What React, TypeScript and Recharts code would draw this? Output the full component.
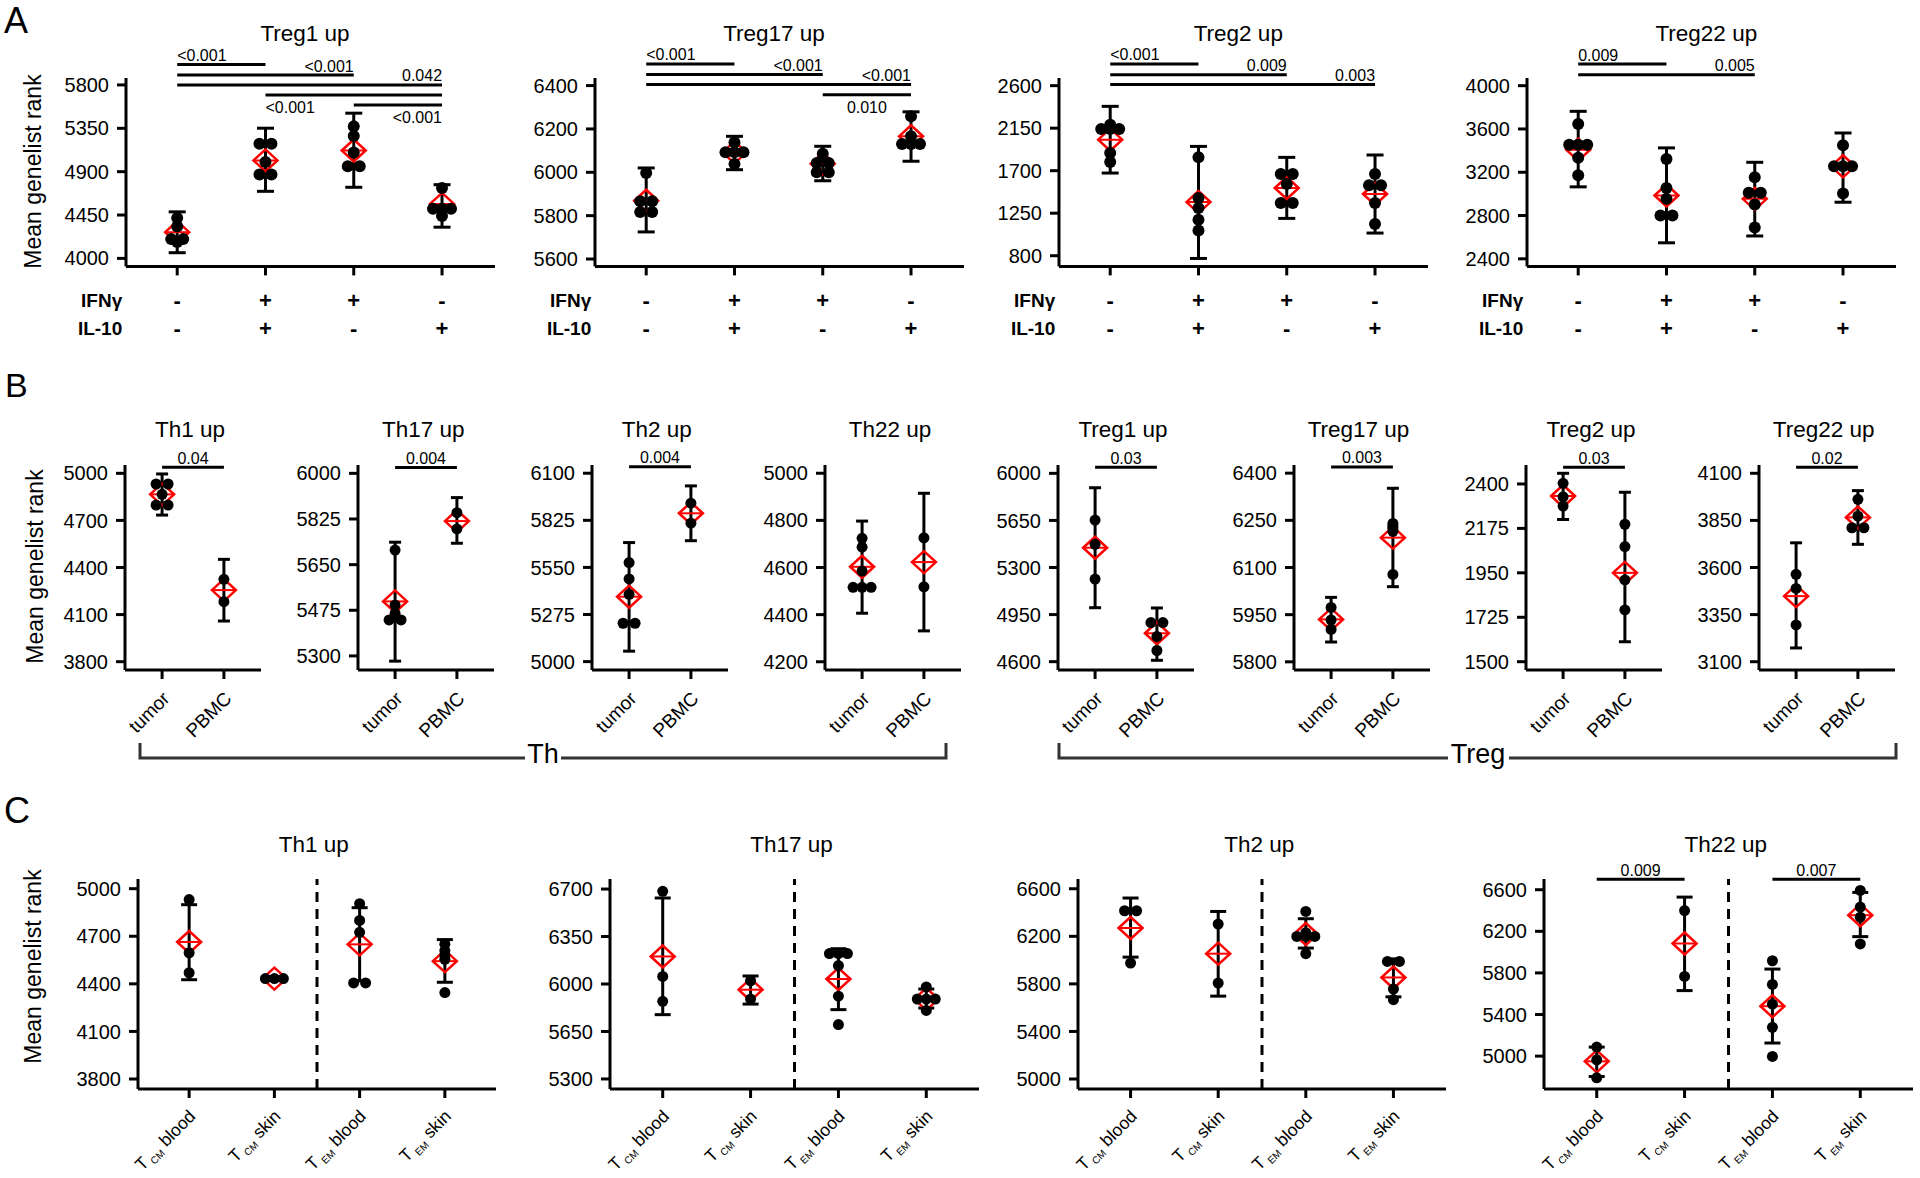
import React from 'react';
import { ComposedChart, Scatter, XAxis, YAxis, ErrorBar, ReferenceLine } from 'recharts';

const FONT = '"Liberation Sans", Arial, Helvetica, sans-serif';

// ================= DATA =================
// ---- Panel A ----
const aTitles = ['Treg1 up', 'Treg17 up', 'Treg2 up', 'Treg22 up'];
const aRowLabels = ['IFNγ', 'IL-10'];
const aIFNg = ['-', '+', '+', '-'];
const aIL10 = ['-', '+', '-', '+'];

const aTreg1Points = [[4420, 4330, 4200, 4200, 4170], [5190, 5190, 5000, 4870, 4870], [5370, 5270, 5100, 4955, 4955], [4730, 4515, 4515, 4515, 4440]];
const aTreg1Mean = [4272, 5017, 5120, 4565];
const aTreg1Low = [4059, 4696, 4738, 4324];
const aTreg1High = [4483, 5351, 5507, 4765];
const aTreg1Ticks = [4000, 4450, 4900, 5350, 5800];
const aTreg1Range = [3917, 5872];
const aTreg1Brackets = [
  { from: 0, to: 1, y: 6013, p: '<0.001', at: 'aboveLeft' },
  { from: 0, to: 2, y: 5903, p: '<0.001', at: 'aboveRight' },
  { from: 0, to: 3, y: 5800, p: '0.042', at: 'aboveRight' },
  { from: 1, to: 3, y: 5696, p: '<0.001', at: 'belowLeft' },
  { from: 2, to: 3, y: 5593, p: '<0.001', at: 'belowRight' },
];

const aTreg17Points = [[5997, 5866, 5866, 5817, 5817], [6138, 6092, 6092, 6092, 6038], [6086, 6043, 6043, 6000, 6000], [6258, 6166, 6131, 6131, 6131]];
const aTreg17Mean = [5869, 6092, 6040, 6166];
const aTreg17Low = [5725, 6012, 5961, 6051];
const aTreg17High = [6020, 6166, 6120, 6279];
const aTreg17Ticks = [5600, 5800, 6000, 6200, 6400];
const aTreg17Range = [5566, 6435];
const aTreg17Brackets = [
  { from: 0, to: 1, y: 6500, p: '<0.001', at: 'aboveLeft' },
  { from: 0, to: 2, y: 6451, p: '<0.001', at: 'aboveRight' },
  { from: 0, to: 3, y: 6405, p: '<0.001', at: 'aboveRight' },
  { from: 2, to: 3, y: 6358, p: '0.010', at: 'belowCenter' },
];

const aTreg2Points = [[2187, 2141, 2141, 2141, 1887, 1792], [1841, 1411, 1305, 1181, 1068], [1665, 1665, 1559, 1358, 1358], [1665, 1545, 1545, 1358, 1136]];
const aTreg2Mean = [2028, 1368, 1517, 1453];
const aTreg2Low = [1675, 771, 1195, 1040];
const aTreg2High = [2381, 1957, 1841, 1866];
const aTreg2Ticks = [800, 1250, 1700, 2150, 2600];
const aTreg2Range = [687, 2681];
const aTreg2Brackets = [
  { from: 0, to: 1, y: 2830, p: '<0.001', at: 'aboveLeft' },
  { from: 0, to: 2, y: 2716, p: '0.009', at: 'aboveRight' },
  { from: 0, to: 3, y: 2611, p: '0.003', at: 'aboveRight' },
];

const aTreg22Points = [[3646, 3455, 3455, 3455, 3333, 3172], [3323, 3055, 2954, 2800, 2800], [3154, 3010, 3010, 2902, 2689], [3449, 3255, 3255, 3255, 3003]];
const aTreg22Mean = [3409, 2985, 2954, 3255];
const aTreg22Low = [3065, 2548, 2611, 2923];
const aTreg22High = [3763, 3425, 3292, 3563];
const aTreg22Ticks = [2400, 2800, 3200, 3600, 4000];
const aTreg22Range = [2330, 4071];
const aTreg22Brackets = [
  { from: 0, to: 1, y: 4200, p: '0.009', at: 'aboveLeft' },
  { from: 0, to: 2, y: 4101, p: '0.005', at: 'aboveRight' },
];

// ---- Panel B ----
const bTitles = ['Th1 up', 'Th17 up', 'Th2 up', 'Th22 up', 'Treg1 up', 'Treg17 up', 'Treg2 up', 'Treg22 up'];
const bCategories = ['tumor', 'PBMC'];
const bGroups = ['Th', 'Treg'];

const bTh1Points = [[4932, 4932, 4866, 4798, 4798], [4325, 4182]];
const bTh1Mean = [4866, 4256];
const bTh1Low = [4734, 4059];
const bTh1High = [4996, 4452];
const bTh1Ticks = [3800, 4100, 4400, 4700, 5000];
const bTh1Range = [3747, 5053];

const bTh17Points = [[5706, 5495, 5463, 5438, 5438], [5849, 5787]];
const bTh17Mean = [5509, 5817];
const bTh17Low = [5280, 5732];
const bTh17High = [5736, 5907];
const bTh17Ticks = [5300, 5475, 5650, 5825, 6000];
const bTh17Range = [5246, 6032];

const bTh2Points = [[5578, 5483, 5393, 5224, 5224], [5925, 5808]];
const bTh2Mean = [5379, 5866];
const bTh2Low = [5061, 5706];
const bTh2High = [5695, 6026];
const bTh2Ticks = [5000, 5275, 5550, 5825, 6100];
const bTh2Range = [4951, 6148];

const bTh22Points = [[4724, 4686, 4585, 4516, 4516, 4516], [4726, 4518]];
const bTh22Mean = [4603, 4623];
const bTh22Low = [4406, 4331];
const bTh22High = [4797, 4915];
const bTh22Ticks = [4200, 4400, 4600, 4800, 5000];
const bTh22Range = [4165, 5035];

const bTreg1Points = [[5653, 5472, 5214], [4891, 4891, 4787, 4683]];
const bTreg1Mean = [5447, 4811];
const bTreg1Low = [5001, 4610];
const bTreg1High = [5893, 4999];
const bTreg1Ticks = [4600, 4950, 5300, 5650, 6000];
const bTreg1Range = [4538, 6062];

const bTreg17Points = [[5973, 5933, 5903], [6240, 6232, 6225, 6215, 6078]];
const bTreg17Mean = [5935, 6195];
const bTreg17Low = [5863, 6039];
const bTreg17High = [6005, 6352];
const bTreg17Ticks = [5800, 5950, 6100, 6250, 6400];
const bTreg17Range = [5774, 6426];

const bTreg2Points = [[2403, 2335, 2288], [2196, 2083, 1914, 1762]];
const bTreg2Mean = [2339, 1950];
const bTreg2Low = [2220, 1601];
const bTreg2High = [2454, 2358];
const bTreg2Ticks = [1500, 1725, 1950, 2175, 2400];
const bTreg2Range = [1458, 2496];

const bTreg22Points = [[3564, 3489, 3295], [3962, 3873, 3811, 3811]];
const bTreg22Mean = [3448, 3866];
const bTreg22Low = [3173, 3723];
const bTreg22High = [3731, 4008];
const bTreg22Ticks = [3100, 3350, 3600, 3850, 4100];
const bTreg22Range = [3056, 4144];

const bPValues = ['0.04', '0.004', '0.004', '', '0.03', '0.003', '0.03', '0.02'];
const bBracketY = [5038, 6022, 6138, 0, 6045, 6420, 2484, 4132];

// ---- Panel C ----
const cTitles = ['Th1 up', 'Th17 up', 'Th2 up', 'Th22 up'];
const cLabelMain = ['T', 'T', 'T', 'T'];
const cLabelSub = ['CM', 'CM', 'EM', 'EM'];
const cLabelTail = ['blood', 'skin', 'blood', 'skin'];

const cTh1Points = [[4931, 4596, 4470], [4433, 4433, 4433], [4905, 4800, 4725, 4406, 4406], [4650, 4610, 4580, 4555, 4345]];
const cTh1Mean = [4664, 4433, 4649, 4543];
const cTh1Low = [4426, 4421, 4418, 4410];
const cTh1High = [4899, 4445, 4880, 4679];
const cTh1Ticks = [3800, 4100, 4400, 4700, 5000];
const cTh1Range = [3737, 5061];

const cTh17Points = [[6683, 6056, 5872], [6024, 5889], [6224, 6224, 6224, 6136, 5910, 5701], [5978, 5889, 5889, 5889, 5805]];
const cTh17Mean = [6203, 5958, 6037, 5889];
const cTh17Low = [5774, 5852, 5811, 5823];
const cTh17High = [6634, 6059, 6260, 5963];
const cTh17Ticks = [5300, 5650, 6000, 6350, 6700];
const cTh17Range = [5226, 6774];

const cTh2Points = [[6415, 6415, 5975], [6303, 5807], [6409, 6230, 6199, 6199, 6199, 6054], [5989, 5989, 5757, 5667]];
const cTh2Mean = [6270, 6054, 6219, 5854];
const cTh2Low = [6025, 5697, 6101, 5691];
const cTh2High = [6522, 6409, 6348, 6010];
const cTh2Ticks = [5000, 5400, 5800, 6200, 6600];
const cTh2Range = [4916, 6682];

const cTh22Points = [[5087, 4965, 4791], [6400, 5766], [5917, 5689, 5499, 5277, 4997], [6593, 6433, 6336, 6079]];
const cTh22Mean = [4950, 6083, 5480, 6355];
const cTh22Low = [4804, 5630, 5126, 6149];
const cTh22High = [5087, 6529, 5837, 6574];
const cTh22Ticks = [5000, 5400, 5800, 6200, 6600];
const cTh22Range = [4684, 6703];
const cTh22Brackets = [
  { from: 0, to: 1, y: 6700, p: '0.009', at: 'aboveCenter' },
  { from: 2, to: 3, y: 6700, p: '0.007', at: 'aboveCenter' },
];

const yLabel = 'Mean genelist rank';
const panelLetters = ['A', 'B', 'C'];

// ================= LAYOUT (positions / sizes) =================
const LAYOUT_A = { axisX: [126, 595, 1059.3, 1527.3], plotW: [369, 369, 369, 369], plotTop: 78.3, plotH: 188.4, mt: 78, xh: 90, domainX: [-0.58, 3.6], r: 6, cap: 8.5, titleY: 41, titleShift: -5.5, divider: false };
const LAYOUT_B = { axisX: [125, 358.3, 591.7, 825, 1058, 1293.5, 1526, 1758.7], plotW: [136, 136, 136, 136, 136, 136, 136, 136], plotTop: 465, plotH: 205, mt: 30, xh: 90, domainX: [-0.6, 1.6], r: 5.5, cap: 6, titleY: 437, titleShift: -3, divider: false };
const LAYOUT_C = { axisX: [137.7, 610, 1078.3, 1544.3], plotW: [358, 369, 368, 369], plotTop: 879.3, plotH: 210, mt: 40, xh: 98, domainX: [-0.6, 3.6], r: 5.5, cap: 8, titleY: 852, titleShift: -3, divider: true };

// ================= HELPERS =================
type Bracket = { from: number; to: number; y: number; p: string; at: string };
type Sub = { title: string; points: number[][]; mean: number[]; low: number[]; high: number[]; ticks: number[]; range: number[]; brackets: Bracket[] };

function buildPoints(groups: number[][]) {
  const out: any[] = [];
  groups.forEach((vals, gi) => {
    const counts: Record<number, number> = {};
    vals.forEach((v) => { counts[v] = (counts[v] || 0) + 1; });
    const seen: Record<number, number> = {};
    vals.forEach((v) => {
      const n = counts[v];
      const k = (seen[v] = seen[v] === undefined ? 0 : seen[v] + 1);
      let dx = 0;
      if (n > 1) {
        const outer = n === 2 ? 6 : 9;
        dx = -outer + (2 * outer * k) / (n - 1);
      }
      out.push({ x: gi, y: v, dx });
    });
  });
  return out;
}

const dotShape = (r: number) => (props: any) => {
  const { cx, cy, payload } = props;
  if (cx == null || cy == null) return <g />;
  return <circle cx={cx + (payload?.dx || 0)} cy={cy} r={r} fill="#000" />;
};

const diamondShape = (props: any) => {
  const { cx, cy } = props;
  if (cx == null || cy == null) return <g />;
  const hw = 12, hh = 11;
  return (
    <g>
      <polygon points={`${cx - hw},${cy} ${cx},${cy - hh} ${cx + hw},${cy} ${cx},${cy + hh}`} fill="none" stroke="#ff0000" strokeWidth={2.5} />
      <line x1={cx - hw} x2={cx + hw} y1={cy} y2={cy} stroke="#ff0000" strokeWidth={2} />
    </g>
  );
};

const bracketLabel = (text: string, at: string) => (props: any) => {
  const vb = props.viewBox || {};
  const x0 = vb.x ?? 0;
  const w = vb.width ?? 0;
  const y = vb.y ?? 0;
  let x = x0;
  let anchor: any = 'start';
  if (at.endsWith('Right')) { x = x0 + w; anchor = 'end'; }
  else if (at.endsWith('Center')) { x = x0 + w / 2; anchor = 'middle'; }
  const ty = at.startsWith('above') ? y - 3.5 : y + 18;
  return <text x={x} y={ty} textAnchor={anchor} fontSize={16} fill="#000" fontFamily={FONT}>{text}</text>;
};

const aTick = (props: any) => {
  const { x, y, payload } = props;
  const i = Math.round(payload.value);
  const r1 = y + 22.5, r2 = y + 50.5;
  return (
    <g fontFamily={FONT} fill="#000">
      <text x={x} y={r1} dy="0.35em" textAnchor="middle" fontSize={22} fontWeight="bold">{aIFNg[i]}</text>
      <text x={x} y={r2} dy="0.35em" textAnchor="middle" fontSize={22} fontWeight="bold">{aIL10[i]}</text>
      {i === 0 && (
        <>
          <text x={x - 55} y={r1} dy="0.35em" textAnchor="end" fontSize={19} fontWeight="bold">{aRowLabels[0]}</text>
          <text x={x - 55} y={r2} dy="0.35em" textAnchor="end" fontSize={19} fontWeight="bold">{aRowLabels[1]}</text>
        </>
      )}
    </g>
  );
};

const bTick = (props: any) => {
  const { x, y, payload } = props;
  const i = Math.round(payload.value);
  const ax = x + 4, ay = y + 14;
  return (
    <text x={ax} y={ay} dy="0.35em" transform={`rotate(-45, ${ax}, ${ay})`} textAnchor="end" fontSize={19} fill="#000" fontFamily={FONT}>{bCategories[i]}</text>
  );
};

const cTick = (props: any) => {
  const { x, y, payload } = props;
  const i = Math.round(payload.value);
  const ax = x + 3, ay = y + 13;
  return (
    <text x={ax} y={ay} dy="0.35em" transform={`rotate(-45, ${ax}, ${ay})`} textAnchor="end" fontSize={17.5} fill="#000" fontFamily={FONT}>
      <tspan>{cLabelMain[i]}</tspan>
      <tspan fontSize={10} dy={4}>{' ' + cLabelSub[i]}</tspan>
      <tspan dy={-4}>{' ' + cLabelTail[i]}</tspan>
    </text>
  );
};

function SubPlot({ sub, lay, idx, tick, nCat }: { sub: Sub; lay: any; idx: number; tick: any; nCat: number }) {
  const YW = 80, MR = 12;
  const plotW = lay.plotW[idx];
  const width = YW + plotW + MR;
  const height = lay.mt + lay.plotH + lay.xh;
  const pts = buildPoints(sub.points);
  const means = sub.mean.map((m, i) => ({ x: i, y: m, err: [m - sub.low[i], sub.high[i] - m] }));
  const catTicks = Array.from({ length: nCat }, (_, i) => i);
  const axisStyle = { stroke: '#000', strokeWidth: 3 };
  return (
    <div style={{ position: 'absolute', left: lay.axisX[idx] - YW, top: lay.plotTop - lay.mt, width, height, fontFamily: FONT }}>
      <ComposedChart width={width} height={height} margin={{ top: lay.mt, right: MR, bottom: 0, left: 0 }}>
        <XAxis type="number" dataKey="x" domain={lay.domainX} allowDataOverflow ticks={catTicks} interval={0} height={lay.xh} tickSize={9} axisLine={axisStyle} tickLine={axisStyle} tick={tick} />
        <YAxis type="number" dataKey="y" domain={sub.range} allowDataOverflow ticks={sub.ticks} interval={0} width={YW} tickSize={9} tickMargin={8} axisLine={axisStyle} tickLine={axisStyle} tick={{ fill: '#000', fontSize: 20, fontFamily: FONT }} />
        {lay.divider && <ReferenceLine x={1.5} stroke="#000" strokeWidth={3} strokeDasharray="10 7" />}
        {sub.brackets.map((b, k) => (
          <ReferenceLine key={k} segment={[{ x: b.from, y: b.y }, { x: b.to, y: b.y }]} ifOverflow="visible" stroke="#000" strokeWidth={3} label={bracketLabel(b.p, b.at)} />
        ))}
        <Scatter data={means} dataKey="y" isAnimationActive={false} shape={diamondShape}>
          <ErrorBar dataKey="err" direction="y" width={lay.cap} stroke="#000" strokeWidth={3} isAnimationActive={false} />
        </Scatter>
        <Scatter data={pts} dataKey="y" isAnimationActive={false} shape={dotShape(lay.r)} />
      </ComposedChart>
    </div>
  );
}

// ================= TABLES BUILT FROM DATA =================
const panelA: Sub[] = [
  { title: aTitles[0], points: aTreg1Points, mean: aTreg1Mean, low: aTreg1Low, high: aTreg1High, ticks: aTreg1Ticks, range: aTreg1Range, brackets: aTreg1Brackets },
  { title: aTitles[1], points: aTreg17Points, mean: aTreg17Mean, low: aTreg17Low, high: aTreg17High, ticks: aTreg17Ticks, range: aTreg17Range, brackets: aTreg17Brackets },
  { title: aTitles[2], points: aTreg2Points, mean: aTreg2Mean, low: aTreg2Low, high: aTreg2High, ticks: aTreg2Ticks, range: aTreg2Range, brackets: aTreg2Brackets },
  { title: aTitles[3], points: aTreg22Points, mean: aTreg22Mean, low: aTreg22Low, high: aTreg22High, ticks: aTreg22Ticks, range: aTreg22Range, brackets: aTreg22Brackets },
];

const bRaw = [
  [bTh1Points, bTh1Mean, bTh1Low, bTh1High, bTh1Ticks, bTh1Range],
  [bTh17Points, bTh17Mean, bTh17Low, bTh17High, bTh17Ticks, bTh17Range],
  [bTh2Points, bTh2Mean, bTh2Low, bTh2High, bTh2Ticks, bTh2Range],
  [bTh22Points, bTh22Mean, bTh22Low, bTh22High, bTh22Ticks, bTh22Range],
  [bTreg1Points, bTreg1Mean, bTreg1Low, bTreg1High, bTreg1Ticks, bTreg1Range],
  [bTreg17Points, bTreg17Mean, bTreg17Low, bTreg17High, bTreg17Ticks, bTreg17Range],
  [bTreg2Points, bTreg2Mean, bTreg2Low, bTreg2High, bTreg2Ticks, bTreg2Range],
  [bTreg22Points, bTreg22Mean, bTreg22Low, bTreg22High, bTreg22Ticks, bTreg22Range],
] as any[];
const panelB: Sub[] = bRaw.map((r, i) => ({
  title: bTitles[i], points: r[0], mean: r[1], low: r[2], high: r[3], ticks: r[4], range: r[5],
  brackets: bPValues[i] ? [{ from: 0, to: 1, y: bBracketY[i], p: bPValues[i], at: 'aboveCenter' }] : [],
}));

const panelC: Sub[] = [
  { title: cTitles[0], points: cTh1Points, mean: cTh1Mean, low: cTh1Low, high: cTh1High, ticks: cTh1Ticks, range: cTh1Range, brackets: [] },
  { title: cTitles[1], points: cTh17Points, mean: cTh17Mean, low: cTh17Low, high: cTh17High, ticks: cTh17Ticks, range: cTh17Range, brackets: [] },
  { title: cTitles[2], points: cTh2Points, mean: cTh2Mean, low: cTh2Low, high: cTh2High, ticks: cTh2Ticks, range: cTh2Range, brackets: [] },
  { title: cTitles[3], points: cTh22Points, mean: cTh22Mean, low: cTh22Low, high: cTh22High, ticks: cTh22Ticks, range: cTh22Range, brackets: cTh22Brackets },
];

export default function App() {
  const titles: any[] = [];
  const addTitles = (subs: Sub[], lay: any, key: string) =>
    subs.forEach((s, i) => titles.push(
      <text key={key + i} x={lay.axisX[i] + lay.plotW[i] / 2 + lay.titleShift} y={lay.titleY} textAnchor="middle" fontSize={22.5} fill="#000">{s.title}</text>
    ));
  addTitles(panelA, LAYOUT_A, 'a');
  addTitles(panelB, LAYOUT_B, 'b');
  addTitles(panelC, LAYOUT_C, 'c');

  return (
    <div style={{ position: 'absolute', left: 0, top: 0, width: 1920, height: 1178, background: '#fff', fontFamily: FONT, overflow: 'hidden' }}>
      {panelA.map((s, i) => <SubPlot key={'A' + i} sub={s} lay={LAYOUT_A} idx={i} tick={aTick} nCat={4} />)}
      {panelB.map((s, i) => <SubPlot key={'B' + i} sub={s} lay={LAYOUT_B} idx={i} tick={bTick} nCat={2} />)}
      {panelC.map((s, i) => <SubPlot key={'C' + i} sub={s} lay={LAYOUT_C} idx={i} tick={cTick} nCat={4} />)}
      <svg width={1920} height={1178} style={{ position: 'absolute', left: 0, top: 0, pointerEvents: 'none' }} fontFamily={FONT}>
        <text x={4} y={33} fontSize={36} fill="#000">{panelLetters[0]}</text>
        <text x={5} y={397} fontSize={34} fill="#000">{panelLetters[1]}</text>
        <text x={4} y={823} fontSize={36} fill="#000">{panelLetters[2]}</text>
        <text x={33} y={171.5} dy="0.35em" transform="rotate(-90, 33, 171.5)" textAnchor="middle" fontSize={23} fill="#000">{yLabel}</text>
        <text x={35} y={566.5} dy="0.35em" transform="rotate(-90, 35, 566.5)" textAnchor="middle" fontSize={23} fill="#000">{yLabel}</text>
        <text x={33} y={966.5} dy="0.35em" transform="rotate(-90, 33, 966.5)" textAnchor="middle" fontSize={23} fill="#000">{yLabel}</text>
        {titles}
        <path d="M140,743 V758 H525 M561,758 H946 V743" stroke="#333" strokeWidth={3} fill="none" />
        <text x={543} y={763} textAnchor="middle" fontSize={27} fill="#000">{bGroups[0]}</text>
        <path d="M1059,743 V758 H1448 M1509,758 H1896 V743" stroke="#333" strokeWidth={3} fill="none" />
        <text x={1478} y={763} textAnchor="middle" fontSize={27} fill="#000">{bGroups[1]}</text>
      </svg>
    </div>
  );
}
